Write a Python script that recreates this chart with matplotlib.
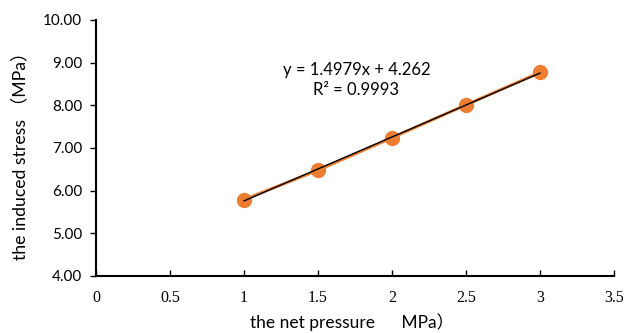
import matplotlib
matplotlib.use("Agg")
import matplotlib.pyplot as plt
import numpy as np

x_vals = [1.0, 1.5, 2.0, 2.5, 3.0]
y_vals = [5.79, 6.48, 7.24, 8.01, 8.77]
slope = 1.4979
intercept = 4.262
x_ticks = [0, 0.5, 1, 1.5, 2, 2.5, 3, 3.5]
x_tick_labels = ["0", "0.5", "1", "1.5", "2", "2.5", "3", "3.5"]
y_ticks = [4, 5, 6, 7, 8, 9, 10]

plt.rcParams['font.family'] = ['Lato', 'Noto Sans CJK SC', 'DejaVu Sans']

fig = plt.figure(figsize=(6.3, 3.33), dpi=100)
ax = fig.add_axes([0.1524, 0.1712, 0.8222, 0.7688])

ax.plot(x_vals, y_vals, color='#ED7D31', lw=2.2, marker='o', ms=10, zorder=2)
xf = np.array([x_vals[0], x_vals[-1]])
ax.plot(xf, slope * xf + intercept, color='black', lw=1, zorder=3)

ax.set_xlim(0, 3.5)
ax.set_ylim(4, 10)
ax.set_xticks(x_ticks)
ax.set_xticklabels(x_tick_labels, family=['Liberation Serif', 'DejaVu Serif'], fontsize=11.5)
ax.set_yticks(y_ticks)
ax.set_yticklabels([f"{v:.2f}" for v in y_ticks], fontsize=11)

for s in ['top', 'right']:
    ax.spines[s].set_visible(False)
for s in ['left', 'bottom']:
    ax.spines[s].set_linewidth(1.5)
    ax.spines[s].set_color('black')
ax.tick_params(axis='x', direction='in', length=4, width=1, pad=10)
ax.tick_params(axis='y', direction='out', length=4, width=1, pad=6)

ax.set_ylabel("the induced stress （MPa）", fontsize=12.7, va='center')
ax.set_xlabel("the net pressure 　 MPa）", fontsize=12.5, va='center')
ax.yaxis.set_label_coords(-0.147, 0.486)
ax.xaxis.set_label_coords(0.494, -0.18)

ax.text(1.76, 8.83, f"y = {slope}x + {intercept}", ha='center', va='center', fontsize=12)
ax.text(1.76, 8.36, "R² = 0.9993", ha='center', va='center', fontsize=12)

fig.savefig("out.png", dpi=100)
